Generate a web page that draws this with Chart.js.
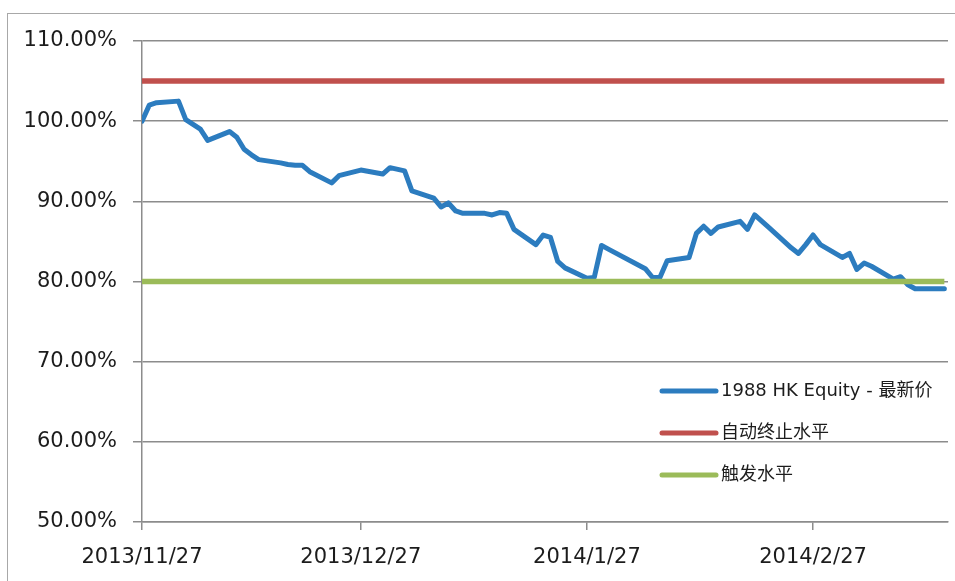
<!DOCTYPE html>
<html><head><meta charset="utf-8">
<script src="https://cdn.jsdelivr.net/npm/chart.js@4/dist/chart.umd.min.js"></script>
<style>
html,body{margin:0;padding:0;background:#fff;overflow:hidden}
#wrap{position:relative;width:955px;height:581px;overflow:hidden}
#frame{position:absolute;left:7px;top:13px;width:1000px;height:700px;border:1.5px solid #a8a8a8;box-sizing:border-box}
canvas{position:absolute;left:0;top:0}
</style></head><body>
<div id="wrap"><div id="frame"></div><canvas id="c" width="955" height="581"></canvas></div>
<script>
const dates = [
 '2013/11/27','2013/11/28','2013/11/29','2013/12/2','2013/12/3','2013/12/4','2013/12/5','2013/12/6',
 '2013/12/9','2013/12/10','2013/12/11','2013/12/12','2013/12/13','2013/12/16','2013/12/17','2013/12/18',
 '2013/12/19','2013/12/20','2013/12/23','2013/12/24','2013/12/27','2013/12/30','2013/12/31','2014/1/2',
 '2014/1/3','2014/1/6','2014/1/7','2014/1/8','2014/1/9','2014/1/10','2014/1/13','2014/1/14','2014/1/15',
 '2014/1/16','2014/1/17','2014/1/20','2014/1/21','2014/1/22','2014/1/23','2014/1/24','2014/1/27',
 '2014/1/28','2014/1/29','2014/1/30','2014/2/4','2014/2/5','2014/2/6','2014/2/7','2014/2/10','2014/2/11',
 '2014/2/12','2014/2/13','2014/2/14','2014/2/17','2014/2/18','2014/2/19','2014/2/20','2014/2/21',
 '2014/2/24','2014/2/25','2014/2/26','2014/2/27','2014/2/28','2014/3/3','2014/3/4','2014/3/5','2014/3/6',
 '2014/3/7','2014/3/10','2014/3/11','2014/3/12','2014/3/13','2014/3/14','2014/3/17'
];
const equityValues = [
 100.0,102.0,102.3,102.5,100.2,99.6,99.0,97.6,
 98.7,98.0,96.5,95.8,95.2,94.8,94.6,94.5,
 94.5,93.7,92.3,93.2,93.9,93.4,94.2,93.8,
 91.3,90.4,89.3,89.8,88.8,88.5,88.5,88.3,88.6,
 88.5,86.5,84.6,85.8,85.5,82.5,81.7,80.4,
 80.5,84.5,84.0,81.6,80.5,80.5,82.6,83.0,86.0,
 86.9,86.0,86.8,87.5,86.5,88.3,87.5,86.7,
 84.2,83.5,84.6,85.8,84.6,83.0,83.5,81.5,82.3,
 81.9,80.3,80.6,79.6,79.1,79.1,79.1
];
const levelDates = ['2013/11/27','2014/3/17'];
const autoCallValues = [105, 105];
const triggerValues = [80, 80];
const seriesNames = ['1988 HK Equity - 最新价', '自动终止水平', '触发水平'];
const seriesColors = ['#2c7cbf', '#c0504d', '#9bbb59'];
const xTickLabels = ['2013/11/27', '2013/12/27', '2014/1/27', '2014/2/27'];
const yTickValues = [50, 60, 70, 80, 90, 100, 110];

function dayOffset(s) {
  const p = s.split('/').map(Number);
  const b = dates[0].split('/').map(Number);
  return (Date.UTC(p[0], p[1] - 1, p[2]) - Date.UTC(b[0], b[1] - 1, b[2])) / 86400000;
}
const toPoints = (ds, vs) => ds.map((d, i) => ({x: dayOffset(d), y: vs[i]}));

const FONT = '"DejaVu Sans", "Noto Sans CJK SC", sans-serif';
const TEXT = '#1c1c1c';
const GRID = '#8c8c8c';

const legendPlugin = {
  id: 'insideLegend',
  afterDraw(chart) {
    const ctx = chart.ctx;
    const rows = [391, 433, 475];
    ctx.save();
    chart.data.datasets.forEach((ds, i) => {
      const y = rows[i];
      ctx.strokeStyle = ds.borderColor;
      ctx.lineWidth = 5;
      ctx.lineCap = 'round';
      ctx.beginPath(); ctx.moveTo(662, y); ctx.lineTo(716, y); ctx.stroke();
      ctx.fillStyle = TEXT;
      ctx.font = '18px ' + FONT;
      ctx.textBaseline = 'middle';
      ctx.textAlign = 'left';
      ctx.fillText(ds.label, 721, y);
    });
    ctx.restore();
  }
};

new Chart(document.getElementById('c'), {
  type: 'line',
  data: {
    datasets: [
      {label: seriesNames[0], data: toPoints(dates, equityValues), borderColor: seriesColors[0],
       borderWidth: 5, pointRadius: 0, tension: 0, borderJoinStyle: 'round', borderCapStyle: 'round', order: 3},
      {label: seriesNames[1], data: toPoints(levelDates, autoCallValues), borderColor: seriesColors[1],
       borderWidth: 5.5, pointRadius: 0, order: 2},
      {label: seriesNames[2], data: toPoints(levelDates, triggerValues), borderColor: seriesColors[2],
       borderWidth: 5.5, pointRadius: 0, order: 1}
    ]
  },
  options: {
    responsive: false,
    animation: false,
    devicePixelRatio: 1,
    layout: {padding: {top: 41, right: 7, left: 0, bottom: 0}},
    plugins: {legend: {display: false}, tooltip: {enabled: false}},
    scales: {
      x: {
        type: 'linear', min: 0, max: 110.5,
        afterBuildTicks: s => { s.ticks = xTickLabels.map(t => ({value: dayOffset(t)})); },
        afterFit: s => { s.height = 59; },
        ticks: {callback: (v, i) => xTickLabels[i], font: {family: FONT, size: 21}, color: TEXT,
                padding: 15, maxRotation: 0, autoSkip: false},
        grid: {drawOnChartArea: false, drawTicks: true, tickLength: 8, color: GRID, lineWidth: 1.5},
        border: {display: true, color: GRID, width: 1.5}
      },
      y: {
        min: 50, max: 110,
        afterBuildTicks: s => { s.ticks = yTickValues.map(v => ({value: v})); },
        afterFit: s => { s.width = 142; },
        ticks: {callback: v => v.toFixed(2) + '%', font: {family: FONT, size: 21}, color: TEXT, padding: 16},
        grid: {color: GRID, lineWidth: 1.5, tickLength: 9},
        border: {display: true, color: GRID, width: 1.5}
      }
    }
  },
  plugins: [legendPlugin]
});
</script>
</body></html>
